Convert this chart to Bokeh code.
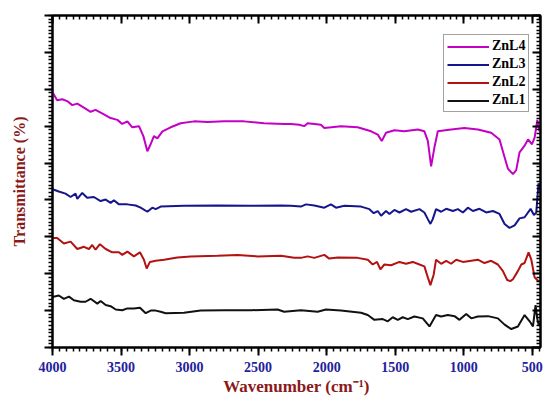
from bokeh.plotting import figure
from bokeh.models import Range1d, LinearAxis, FixedTicker, Legend, LegendItem, CustomJSTickFormatter
from bokeh.embed import file_html
from bokeh.resources import INLINE

# ---------------- data ----------------
series_names = ["ZnL4", "ZnL3", "ZnL2", "ZnL1"]
series_colors = ["#C400C4", "#16168C", "#B31212", "#111111"]

znl4_wn = [4000, 3966, 3929, 3893, 3856, 3819, 3771, 3722, 3686, 3625, 3576, 3527, 3491, 3454, 3418,
           3369, 3337, 3308, 3284, 3260, 3235, 3198, 3138, 3065, 2967, 2870, 2748, 2602, 2456, 2310,
           2261, 2200, 2164, 2139, 2042, 2017, 1896, 1774, 1676, 1627, 1598, 1567, 1506, 1433, 1335,
           1287, 1262, 1238, 1214, 1189, 1092, 995, 897, 800, 739, 702, 678, 641, 617, 593, 556, 531,
           502, 483, 463, 447]
znl4_t = [69.2, 67.0, 67.3, 66.8, 65.7, 66.1, 65.0, 63.9, 64.4, 63.2, 62.2, 61.7, 60.6, 61.3, 59.7,
          60.0, 57.3, 53.2, 55.1, 57.3, 56.7, 58.6, 59.7, 60.8, 61.3, 61.1, 61.3, 61.3, 60.8, 60.6,
          60.6, 60.4, 60.0, 60.8, 60.4, 59.5, 60.0, 59.7, 58.6, 57.7, 56.0, 58.2, 58.9, 58.6, 59.1,
          58.6, 56.0, 49.1, 54.2, 58.6, 59.1, 59.5, 59.1, 58.2, 56.4, 51.6, 48.5, 47.0, 48.1, 52.9,
          54.7, 56.4, 55.1, 56.9, 61.7, 58.6]

znl3_wn = [4000, 3954, 3905, 3868, 3832, 3819, 3783, 3747, 3698, 3649, 3612, 3576, 3552, 3515, 3454,
           3393, 3357, 3308, 3272, 3247, 3211, 3041, 2797, 2553, 2334, 2261, 2188, 2151, 2090, 2017,
           1969, 1932, 1871, 1749, 1688, 1657, 1627, 1603, 1567, 1542, 1506, 1469, 1421, 1384, 1323,
           1287, 1262, 1243, 1226, 1202, 1165, 1128, 1079, 1043, 1006, 970, 933, 885, 836, 787, 739,
           702, 666, 629, 593, 556, 512, 488, 471, 454, 439]
znl3_t = [42.9, 42.3, 41.7, 40.8, 41.7, 40.3, 41.9, 40.6, 40.8, 39.7, 40.1, 39.2, 39.9, 38.8, 38.8,
          38.5, 37.9, 36.8, 37.9, 37.5, 38.2, 38.4, 38.5, 38.4, 38.5, 38.4, 38.2, 38.8, 38.5, 37.9,
          38.8, 37.9, 38.4, 38.2, 37.5, 36.4, 37.0, 35.7, 37.0, 36.2, 37.3, 36.6, 37.5, 36.8, 37.5,
          36.6, 34.8, 33.5, 34.8, 37.5, 36.8, 37.6, 37.0, 37.5, 36.6, 37.9, 37.0, 37.6, 36.6, 37.0,
          36.2, 33.5, 32.4, 33.1, 35.0, 35.3, 37.6, 35.9, 36.6, 44.5, 42.3]

znl2_wn = [4000, 3966, 3917, 3868, 3819, 3771, 3734, 3710, 3686, 3654, 3612, 3564, 3515, 3491, 3454,
           3406, 3362, 3333, 3313, 3289, 3247, 3186, 3089, 2992, 2797, 2650, 2504, 2334, 2237, 2188,
           2139, 2090, 2017, 1981, 1920, 1774, 1700, 1664, 1633, 1608, 1579, 1530, 1469, 1421, 1372,
           1323, 1287, 1262, 1243, 1219, 1202, 1165, 1128, 1092, 1055, 1006, 897, 849, 800, 751, 714,
           683, 660, 641, 605, 580, 556, 527, 507, 483, 459, 439]
znl2_t = [29.7, 29.7, 28.2, 28.7, 26.7, 27.3, 26.7, 27.8, 26.5, 28.0, 26.7, 25.8, 25.8, 25.1, 26.0,
          24.7, 25.8, 23.8, 21.4, 23.2, 23.5, 23.8, 24.4, 24.7, 24.9, 25.1, 24.7, 24.9, 24.3, 24.3,
          24.7, 24.3, 25.1, 24.1, 24.4, 24.3, 23.8, 22.5, 23.2, 21.2, 22.5, 22.3, 23.2, 22.7, 23.2,
          22.5, 22.0, 19.0, 16.9, 19.8, 23.8, 22.7, 23.5, 22.7, 23.8, 23.2, 23.8, 22.9, 23.5, 22.5,
          20.7, 18.3, 18.0, 18.5, 20.7, 22.5, 22.9, 25.8, 23.8, 19.0, 18.1, 18.1]

znl1_wn = [4000, 3954, 3917, 3880, 3844, 3795, 3759, 3722, 3673, 3649, 3612, 3576, 3539, 3491, 3454,
           3406, 3362, 3320, 3284, 3247, 3211, 3174, 3041, 2919, 2748, 2553, 2358, 2310, 2188, 2066,
           2005, 1896, 1749, 1700, 1652, 1591, 1554, 1518, 1481, 1445, 1408, 1360, 1299, 1250, 1202,
           1165, 1116, 1067, 1031, 982, 945, 897, 823, 751, 702, 653, 605, 556, 519, 495, 476, 464,
           454, 439]
znl1_t = [13.7, 14.1, 13.2, 13.8, 12.8, 12.4, 12.4, 13.2, 11.9, 12.6, 11.5, 11.2, 10.3, 10.1, 10.6,
          10.6, 10.8, 9.3, 10.0, 10.0, 9.7, 9.3, 9.4, 10.0, 10.1, 10.1, 10.3, 9.7, 10.1, 9.7,
          10.3, 10.0, 9.4, 8.8, 7.5, 7.7, 7.1, 8.2, 7.5, 8.2, 7.7, 8.4, 7.9, 5.7, 8.8,
          8.4, 8.8, 8.5, 7.5, 9.1, 7.9, 8.4, 8.5, 7.9, 6.2, 5.0, 5.7, 8.8, 7.1, 5.7, 11.5, 7.9,
          6.2, 6.6]

x_major_ticks = [4000, 3500, 3000, 2500, 2000, 1500, 1000, 500]
x_minor_ticks = list(range(450, 4001, 50))
y_major_ticks = list(range(0, 91, 10))
y_minor_ticks = list(range(0, 91, 1))

# ---------------- figure ----------------
SERIF = "Liberation Serif"
TITLE_COLOR = "#8A1A1A"
TICK_COLOR = "#22229A"

p = figure(width=543, height=398, output_backend="svg", toolbar_location=None,
           x_range=Range1d(4000, 440), y_range=Range1d(0, 90),
           min_border_left=52, min_border_right=3, min_border_top=15, min_border_bottom=43,
           x_axis_label="Wavenumber (cm\u207B\u00B9)", y_axis_label="Transmittance (%)")
p.grid.visible = False
p.background_fill_color = "white"
p.border_fill_color = "white"
p.outline_line_color = "black"
p.outline_line_width = 2

xt = FixedTicker(ticks=x_major_ticks, minor_ticks=x_minor_ticks)
yt = FixedTicker(ticks=y_major_ticks, minor_ticks=y_minor_ticks)
blank = CustomJSTickFormatter(code="return ''")

xa = p.xaxis[0]
xa.ticker = xt
xa.axis_line_width = 2
xa.major_tick_out = 8
xa.major_tick_in = 0
xa.minor_tick_out = 4
xa.minor_tick_in = 0
xa.major_tick_line_width = 2
xa.minor_tick_line_width = 1.5
xa.major_label_text_font = SERIF
xa.major_label_text_font_style = "bold"
xa.major_label_text_font_size = "14px"
xa.major_label_text_color = TICK_COLOR
xa.major_label_standoff = 6
xa.axis_label_text_font = SERIF
xa.axis_label_text_font_style = "bold"
xa.axis_label_text_font_size = "17px"
xa.axis_label_text_color = TITLE_COLOR
xa.axis_label_standoff = 2

ya = p.yaxis[0]
ya.ticker = yt
ya.formatter = blank
ya.axis_line_width = 2
ya.major_tick_out = 8
ya.major_tick_in = 0
ya.minor_tick_out = 4
ya.minor_tick_in = 0
ya.major_tick_line_width = 2
ya.minor_tick_line_width = 1.5
ya.major_label_standoff = 0
ya.axis_label_text_font = SERIF
ya.axis_label_text_font_style = "bold"
ya.axis_label_text_font_size = "16px"
ya.axis_label_text_color = TITLE_COLOR
ya.axis_label_standoff = 17

top = LinearAxis(ticker=xt, formatter=blank, axis_line_width=2,
                 major_tick_in=8, major_tick_out=0, minor_tick_in=4, minor_tick_out=0,
                 major_tick_line_width=2, minor_tick_line_width=1.5, major_label_standoff=0)
right = LinearAxis(ticker=yt, formatter=blank, axis_line_width=2,
                   major_tick_in=8, major_tick_out=0, minor_tick_in=4, minor_tick_out=0,
                   major_tick_line_width=2, minor_tick_line_width=1.5, major_label_standoff=0)
p.add_layout(top, "above")
p.add_layout(right, "right")

all_wn = [znl4_wn, znl3_wn, znl2_wn, znl1_wn]
all_t = [znl4_t, znl3_t, znl2_t, znl1_t]
items = []
for name, color, wn, t in zip(series_names, series_colors, all_wn, all_t):
    r = p.line(wn, t, line_color=color, line_width=2)
    items.append(LegendItem(label=name, renderers=[r]))

legend = Legend(items=items, location=(391, 235), glyph_width=42, glyph_height=15,
                label_height=15, label_standoff=3, padding=3, spacing=2, margin=0,
                label_text_font=SERIF, label_text_font_style="bold", label_text_font_size="14px",
                label_text_color="black", border_line_color="#444444", border_line_width=1.5,
                background_fill_color="white", background_fill_alpha=1.0)
p.add_layout(legend)

open("out.html", "w").write(file_html(p, INLINE))
